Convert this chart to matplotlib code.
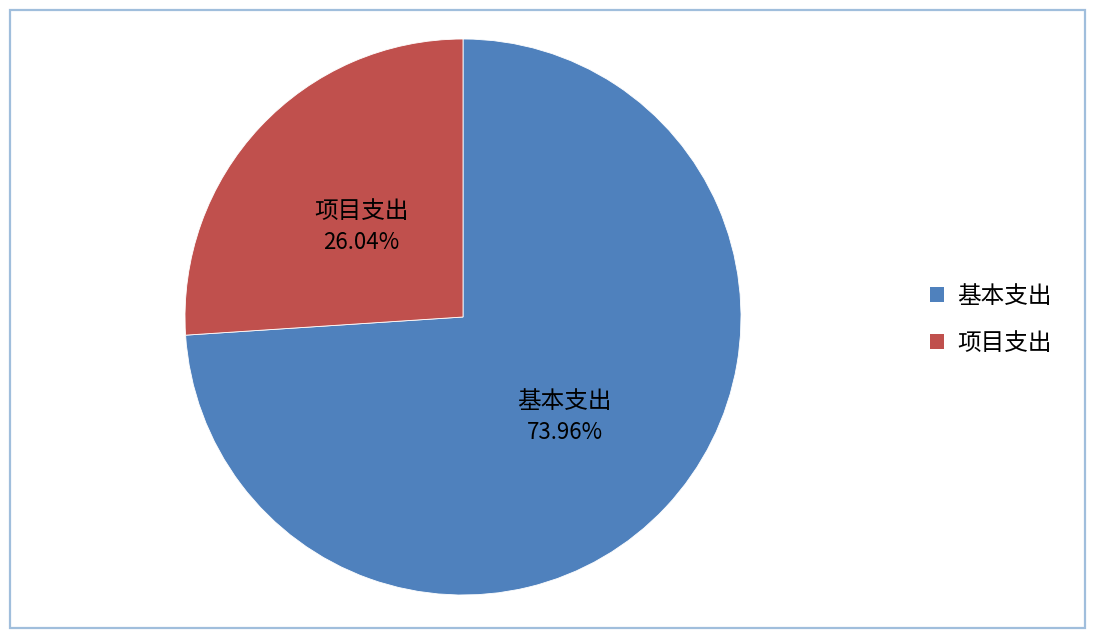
import numpy as np
import matplotlib
matplotlib.use("Agg")
import matplotlib.pyplot as plt
from matplotlib.patches import Rectangle, Patch

plt.rcParams['font.family'] = ['Noto Sans CJK SC', 'DejaVu Sans']

categories = ['基本支出', '项目支出']
shares = [73.96, 26.04]
colors = ['#4F81BD', '#C0504D']

W, H = 1096, 639
fig = plt.figure(figsize=(W / 100, H / 100), dpi=100)

# outer chart border
fig.patches.append(Rectangle((10 / W, 1 - 628 / H), 1075 / W, 618 / H,
                             transform=fig.transFigure, fill=False,
                             edgecolor='#A0BEDC', linewidth=1.6))

# pie axes, centre (463, 317), radius 278 px
cx, cy, r = 463, 317, 278
ax = fig.add_axes([(cx - r) / W, (H - cy - r) / H, 2 * r / W, 2 * r / H])
wedges, _ = ax.pie(shares, colors=colors, startangle=90, counterclock=False,
                   wedgeprops=dict(edgecolor='white', linewidth=0.6))
ax.set_xlim(-1, 1)
ax.set_ylim(-1, 1)
ax.set_aspect('equal')

for w, name, val in zip(wedges, categories, shares):
    mid = np.deg2rad((w.theta1 + w.theta2) / 2)
    x, y = 0.5 * np.cos(mid), 0.5 * np.sin(mid) - 0.018
    ax.text(x, y + 0.057, name, ha='center', va='center', fontsize=17, color='black')
    ax.text(x, y - 0.057, f'{val:.2f}%', ha='center', va='center', fontsize=16, color='black')

handles = [Patch(facecolor=c, edgecolor='none') for c in colors]
fig.legend(handles, categories, loc='center left', bbox_to_anchor=(909 / W, 1 - 320 / H),
           frameon=False, fontsize=17, handlelength=0.6, handleheight=0.6,
           handletextpad=0.55, labelspacing=1.0)

fig.savefig('out.png', dpi=100, facecolor='white')
